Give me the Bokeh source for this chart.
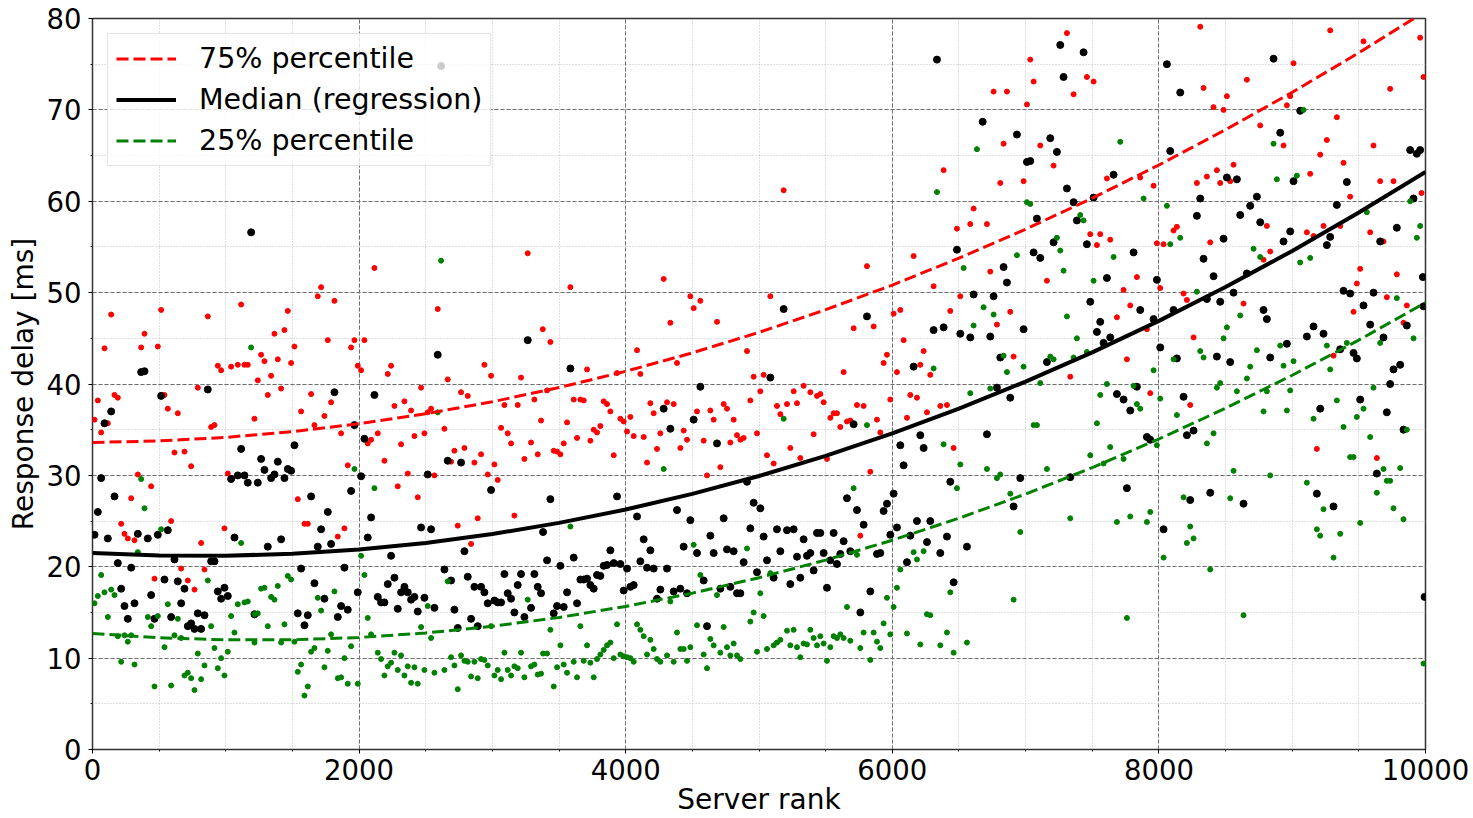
from bokeh.plotting import figure
from bokeh.models import Range1d, SingleIntervalTicker, BasicTickFormatter
from bokeh.embed import file_html
from bokeh.resources import INLINE

FONT = "DejaVu Sans"

# ---- 75% percentile samples (red) ----
p75_points = [
    (140, 47.6), (90, 43.9), (365, 44.0), (390, 45.5), (490, 44.1), (515, 48.1), (865, 47.4), (940, 42.0),
    (965, 41.5), (1040, 41.9), (1090, 42.1), (1140, 42.1), (1165, 42.1), (1115, 48.7), (1240, 40.4), (1265, 43.2),
    (1290, 42.5), (1340, 40.9), (1365, 45.5), (1390, 42.7), (1440, 45.9), (1465, 48.0), (1490, 42.3), (1515, 44.1),
    (1690, 49.6), (1715, 50.6), (1815, 49.1), (1765, 44.8), (1940, 44.0), (1965, 44.8), (2040, 44.8), (1990, 42.0),
    (2015, 41.5), (2115, 52.7), (2215, 41.1), (2240, 42.0), (2590, 48.2), (2665, 40.5), (2940, 42.1), (2990, 40.9),
    (3215, 40.7), (3265, 54.3), (3378, 46.0), (790, 39.6), (2465, 39.6), (1415, 39.5),
    (15, 36.1), (40, 38.2), (65, 34.7), (115, 35.7), (165, 38.8), (190, 38.5), (215, 24.7), (240, 23.6),
    (265, 23.1), (290, 27.5), (315, 22.9), (340, 30.1), (440, 28.8), (465, 18.7), (515, 38.8), (540, 38.8),
    (565, 37.3), (590, 25.0), (615, 32.5), (640, 36.8), (665, 19.8), (690, 32.6), (715, 18.5), (740, 31.0),
    (765, 17.5), (815, 22.6), (840, 19.7), (890, 35.3), (915, 35.5), (990, 24.2), (1015, 30.2), (1215, 36.2),
    (1315, 38.8), (1540, 27.4), (1565, 37.0), (1590, 24.7), (1615, 24.7), (1640, 38.9), (1665, 35.5), (1740, 36.5),
    (1790, 38.0), (1840, 23.3), (1865, 34.6), (1890, 24.2), (1915, 31.1), (2065, 33.5), (2090, 33.9), (2140, 34.6),
    (2190, 31.6), (2265, 37.6), (2290, 28.8), (2315, 33.4), (2340, 38.1), (2365, 30.2), (2390, 37.1), (2415, 34.3),
    (2440, 27.6), (2490, 34.6), (2515, 36.9), (2540, 37.3), (2565, 30.0), (2640, 35.1), (2690, 31.5), (2715, 32.7),
    (2740, 24.5), (2765, 39.1), (2790, 33.0), (2815, 38.7), (2840, 22.5), (2865, 31.4), (2890, 25.3), (2915, 32.3),
    (2965, 30.1), (3015, 31.2), (3040, 29.5), (3065, 35.2), (3090, 37.7), (3115, 34.6), (3140, 33.5), (3165, 25.6),
    (3190, 37.7), (3240, 31.8), (3290, 33.6), (3315, 38.3), (3340, 32.3), (3365, 36.0),
    (3435, 44.6), (3585, 50.6), (3710, 41.6), (3935, 41.2), (4085, 43.7), (4110, 41.1), (4285, 51.5), (4335, 46.7),
    (4385, 42.3), (4485, 49.6), (4510, 48.3), (4560, 49.1), (4685, 46.8), (4910, 43.6), (4960, 40.8), (5035, 41.0),
    (5085, 49.6), (5185, 61.2), (5335, 39.8), (5635, 41.3), (5710, 46.1), (5810, 52.9), (5860, 46.3), (5935, 42.3),
    (5960, 43.2), (6010, 47.7), (6035, 41.3), (6060, 48.1), (6085, 44.8), (6160, 54.0), (6210, 42.1), (6235, 43.6),
    (6285, 41.0), (6310, 50.7), (6385, 63.4), (6435, 48.0), (6485, 57.0), (6510, 49.6), (6585, 57.5), (6610, 59.2),
    (3410, 39.3), (3460, 32.7), (3485, 32.6), (3510, 32.3), (3535, 33.5), (3560, 35.8), (3610, 38.3), (3635, 34.1),
    (3660, 38.3), (3685, 38.2), (3735, 33.8), (3760, 35.0), (3785, 34.7), (3810, 35.4), (3835, 38.1), (3860, 37.8),
    (3885, 37.0), (3910, 32.2), (3960, 36.2), (3985, 35.9), (4010, 34.8), (4035, 36.4), (4060, 34.3), (4135, 34.2),
    (4160, 31.4), (4185, 37.9), (4210, 36.8), (4235, 32.9), (4260, 34.6), (4310, 38.0), (4360, 37.8), (4410, 33.0),
    (4435, 34.9), (4460, 33.9), (4535, 37.0), (4585, 33.8), (4610, 30.0), (4635, 37.1), (4660, 36.1), (4710, 30.9),
    (4735, 37.8), (4760, 37.3), (4785, 33.6), (4810, 36.1), (4835, 34.4), (4860, 33.9), (4885, 34.1), (4935, 38.2),
    (4985, 34.6), (5010, 39.2), (5060, 32.2), (5110, 31.3), (5135, 37.6), (5160, 36.7), (5210, 37.8), (5235, 33.0),
    (5260, 39.2), (5285, 37.9), (5310, 31.9), (5385, 39.1), (5410, 34.5), (5435, 38.7), (5460, 38.9), (5485, 38.0),
    (5510, 31.8), (5535, 36.3), (5560, 36.8), (5585, 36.8), (5610, 35.3), (5660, 35.9), (5685, 36.0), (5735, 37.7),
    (5760, 23.4), (5785, 37.6), (5835, 30.4), (5885, 36.1), (5910, 34.7), (5985, 38.3), (6110, 36.3), (6135, 38.8),
    (6185, 38.5), (6260, 36.9), (6360, 37.6), (6410, 37.7), (6460, 33.0),
    (6760, 72.0), (6860, 72.0), (7035, 75.5), (7060, 73.1), (7010, 70.6), (7310, 78.4), (7460, 73.6), (7510, 73.1),
    (7360, 71.7), (6835, 66.3), (7110, 66.1), (7210, 63.9), (6810, 62.0), (6985, 62.2), (6710, 57.5), (6735, 52.3),
    (7160, 51.3), (6885, 47.9), (6785, 46.5), (6910, 43.0), (7335, 40.8), (7485, 56.4), (7560, 56.4), (7535, 55.2),
    (7635, 55.8), (7610, 62.5), (7685, 47.3), (7735, 50.3), (7785, 48.6), (7835, 51.7), (7760, 42.7), (7860, 62.6),
    (7960, 61.7), (7985, 55.4), (8035, 55.3), (8010, 50.5), (7910, 46.0), (8110, 56.8), (8135, 57.2), (8185, 49.9),
    (8210, 49.2), (8260, 45.1), (8285, 62.0), (8335, 72.4), (8310, 79.1), (8360, 62.7), (8435, 63.4), (8460, 62.0),
    (8385, 55.5), (8410, 70.3), (8485, 70.0), (8510, 71.5), (8560, 64.0), (8535, 62.2), (8635, 48.8), (8660, 73.3),
    (8760, 68.3), (8810, 57.3), (8835, 54.5), (8785, 53.6), (8935, 66.1), (8960, 70.5), (8985, 71.5), (9010, 75.1),
    (9110, 56.6), (9135, 63.0), (9160, 56.2), (9210, 65.1), (9235, 57.3), (9260, 66.7), (9285, 78.7), (9310, 43.1),
    (9335, 69.2), (9360, 57.3), (9385, 64.2), (9435, 60.5), (9460, 47.9), (9485, 51.0), (9510, 52.6), (9535, 77.5),
    (9585, 56.6), (9610, 66.1), (9660, 62.2), (9685, 55.6), (9710, 49.5), (9735, 72.3), (9760, 62.2), (9785, 52.0),
    (9835, 46.7), (9860, 48.6), (9960, 77.9), (9985, 73.6), (9970, 60.9),
    (7935, 39.0), (8235, 37.7), (9185, 32.9), (9635, 31.9),
]

# ---- median samples (black) ----
median_points = [
    (1190, 56.6), (365, 41.3), (390, 41.4), (2590, 43.2), (3265, 44.8), (2615, 74.8),
    (40, 26.0), (65, 29.7), (15, 23.5), (90, 35.7), (115, 23.1), (140, 37.0), (165, 27.7), (190, 20.4),
    (215, 17.6), (240, 15.7), (265, 14.3), (290, 19.9), (315, 16.0), (340, 23.6), (415, 23.1), (440, 16.9),
    (465, 14.3), (490, 23.5), (515, 38.7), (540, 18.6), (565, 24.0), (590, 14.5), (615, 20.8), (640, 18.4),
    (665, 16.0), (690, 17.6), (715, 13.5), (740, 13.8), (765, 13.2), (790, 14.9), (815, 13.2), (840, 14.7),
    (865, 39.4), (890, 20.6), (915, 20.6), (940, 17.3), (965, 16.5), (990, 17.7), (1015, 16.8), (1040, 29.6),
    (1065, 23.2), (1090, 30.0), (1140, 30.0), (1115, 32.9), (1165, 29.2), (1215, 14.8), (1240, 29.2), (1265, 31.8),
    (1290, 30.6), (1315, 22.2), (1340, 29.7), (1365, 30.1), (1390, 31.5), (1415, 23.0), (1440, 29.7), (1465, 30.7),
    (1490, 30.5), (1515, 33.3), (1540, 14.9), (1565, 19.8), (1590, 13.6), (1615, 14.7), (1640, 27.7), (1665, 18.2),
    (1690, 22.2), (1715, 24.1), (1740, 16.5), (1765, 26.0), (1790, 22.5), (1815, 39.1), (1840, 14.5), (1865, 15.7),
    (1890, 19.9), (1915, 15.3), (1940, 28.3), (1965, 35.5), (1990, 17.2), (2015, 29.9), (2040, 34.0), (2065, 23.2),
    (2090, 25.4), (2115, 38.8), (2140, 16.7), (2165, 16.1), (2190, 16.1), (2215, 18.1), (2240, 21.2), (2265, 18.8),
    (2290, 15.4), (2315, 17.2), (2340, 17.8), (2365, 17.2), (2390, 16.4), (2415, 16.7), (2440, 15.1), (2465, 24.3),
    (2490, 16.6), (2515, 30.1), (2540, 24.1), (2565, 15.5), (2640, 19.7), (2665, 31.6), (2690, 18.5), (2715, 15.3),
    (2740, 13.3), (2765, 31.4), (2790, 21.7), (2815, 18.9), (2840, 14.3), (2865, 17.8), (2915, 17.8), (2890, 13.5),
    (2940, 17.2), (2965, 16.0), (2990, 28.4), (3015, 16.3), (3040, 16.1), (3065, 16.1), (3090, 19.2), (3115, 17.1),
    (3140, 16.5), (3165, 15.0), (3190, 18.0), (3215, 19.2), (3240, 14.5), (3290, 15.5), (3315, 19.2), (3340, 17.8),
    (3365, 17.1), (3380, 23.8),
    (3585, 41.7), (5085, 40.7), (5185, 48.2), (5810, 47.4), (6160, 41.9), (6310, 45.9), (6385, 46.2), (6335, 75.5),
    (6485, 54.7), (6510, 45.5), (6585, 45.1), (6610, 49.8), (6678, 68.7),
    (3410, 20.7), (3435, 27.4), (3460, 14.9), (3485, 15.7), (3535, 15.6), (3510, 20.1), (3560, 17.2), (3610, 21.0),
    (3635, 16.0), (3660, 18.6), (3685, 18.6), (3710, 18.7), (3735, 18.0), (3760, 17.6), (3785, 19.1), (3810, 19.0),
    (3835, 20.1), (3860, 20.2), (3885, 21.8), (3910, 20.4), (3960, 20.3), (3935, 27.7), (3985, 17.4), (4010, 19.8),
    (4035, 17.8), (4060, 18.0), (4085, 25.5), (4110, 20.6), (4135, 23.0), (4160, 19.9), (4210, 19.8), (4185, 21.8),
    (4235, 16.5), (4260, 17.5), (4285, 37.3), (4310, 19.8), (4335, 35.1), (4360, 17.3), (4410, 17.6), (4385, 26.2),
    (4435, 22.2), (4460, 17.1), (4485, 25.1), (4510, 36.1), (4535, 21.5), (4560, 39.7), (4585, 18.5), (4610, 13.5),
    (4635, 23.4), (4660, 21.5), (4685, 33.5), (4710, 17.6), (4735, 25.3), (4760, 21.9), (4810, 21.7), (4785, 17.8),
    (4835, 17.1), (4860, 17.1), (4885, 20.5), (4910, 29.3), (4935, 24.2), (4960, 27.0), (4985, 19.4), (5010, 26.4),
    (5035, 23.3), (5060, 20.7), (5110, 18.8), (5135, 24.1), (5160, 21.7), (5210, 24.0), (5260, 24.1), (5235, 18.1),
    (5285, 21.1), (5310, 18.8), (5335, 23.0), (5360, 21.2), (5385, 21.5), (5410, 19.6), (5435, 23.7), (5460, 23.7),
    (5485, 21.5), (5510, 17.7), (5535, 20.7), (5560, 23.7), (5585, 20.3), (5610, 21.4), (5635, 22.8), (5660, 27.5),
    (5685, 21.7), (5710, 35.6), (5735, 26.2), (5760, 15.0), (5785, 24.6), (5835, 17.3), (5885, 21.4), (5910, 21.5),
    (5935, 26.1), (5960, 26.9), (5985, 23.5), (6010, 28.0), (6035, 24.3), (6060, 33.3), (6085, 31.1), (6110, 20.5),
    (6135, 23.4), (6185, 25.0), (6210, 34.4), (6235, 33.0), (6260, 22.7), (6285, 25.0), (6360, 21.5), (6410, 23.3),
    (6435, 29.3), (6460, 18.3), (6560, 22.2),
    (7260, 77.1), (7285, 73.6), (7435, 76.3), (6935, 67.3), (7185, 66.9), (7235, 65.4), (7010, 64.3), (7035, 64.4),
    (7310, 61.4), (7360, 59.9), (7085, 58.1), (7385, 57.9), (7510, 60.4), (7660, 62.9), (7210, 55.5), (7460, 55.3),
    (7060, 54.4), (7110, 53.8), (6835, 52.8), (6860, 51.1), (6760, 49.6), (6985, 46.0), (6735, 45.2), (6810, 42.9),
    (7160, 42.4), (6785, 39.6), (7485, 49.0), (7560, 46.8), (7535, 45.7), (7635, 45.1), (7585, 44.5), (7610, 51.6),
    (7810, 54.4), (7860, 48.1), (7960, 47.1), (7985, 51.4), (8110, 48.1), (8010, 44.0), (8135, 42.8), (7835, 39.7),
    (8060, 75.0), (8160, 71.9), (8085, 65.5), (8310, 60.3), (8285, 58.4), (8335, 53.7), (8485, 55.9), (8410, 51.8),
    (8360, 49.3), (8460, 49.0), (8560, 50.0), (8435, 43.0), (8535, 42.4), (8510, 62.6), (8585, 62.4), (8610, 58.5),
    (8685, 59.5), (8735, 60.5), (8760, 57.7), (8660, 52.1), (8785, 48.1), (8810, 47.1), (8960, 44.4), (8835, 42.9),
    (8860, 75.6), (8910, 67.5), (9060, 69.9), (9010, 62.2), (8935, 55.6), (8985, 56.7), (9260, 55.2), (9285, 56.1),
    (9335, 59.6), (9410, 62.1), (9160, 46.3), (9110, 45.2), (9235, 45.5), (9385, 50.2), (9435, 49.9), (9360, 43.8),
    (9460, 43.4), (9485, 42.8), (9535, 48.6), (9585, 46.5), (9610, 50.0), (9685, 45.1), (9660, 55.6), (9785, 57.1),
    (9760, 41.6), (9810, 42.1), (9735, 40.0), (9860, 46.4), (9885, 65.6), (9935, 65.2), (9960, 65.6), (9910, 60.3),
    (9985, 48.5), (9980, 51.7),
    (6885, 38.5), (6710, 34.5), (6960, 29.7), (6910, 26.6), (7335, 29.8), (7685, 38.9), (7735, 38.3), (7785, 37.1),
    (7910, 34.2), (7935, 33.9), (7760, 28.6), (8035, 24.1), (8185, 38.6), (8210, 34.4), (8260, 34.9), (8235, 27.3),
    (8385, 28.1), (8635, 26.9), (9210, 37.3), (9185, 28.0), (9310, 26.6), (9510, 38.3), (9710, 36.9), (9835, 35.0),
    (9635, 30.2), (9993, 16.7),
]

# ---- 25% percentile samples (green) ----
p25_points = [
    (1190, 44.0), (2615, 53.5),
    (15, 16.0), (40, 16.8), (65, 19.1), (90, 17.2), (115, 14.5), (140, 17.5), (165, 16.9), (190, 12.4),
    (215, 9.6), (240, 12.5), (265, 11.8), (290, 12.5), (315, 9.3), (340, 21.6), (365, 29.6), (390, 26.4),
    (415, 14.5), (440, 13.5), (465, 6.9), (490, 14.6), (515, 24.1), (540, 11.2), (565, 15.9), (590, 7.0),
    (615, 12.5), (640, 14.3), (665, 12.2), (690, 8.1), (715, 8.4), (740, 7.8), (765, 6.5), (790, 10.5),
    (815, 7.7), (840, 9.2), (865, 18.5), (890, 13.5), (915, 11.1), (940, 8.9), (965, 10.0), (990, 8.1),
    (1015, 10.7), (1040, 14.6), (1065, 12.8), (1090, 15.9), (1140, 16.1), (1165, 16.2), (1115, 22.6), (1215, 14.8),
    (1240, 14.9), (1215, 11.7), (1265, 17.6), (1290, 17.7), (1315, 13.5), (1340, 16.7), (1365, 16.4), (1390, 17.9),
    (1415, 11.7), (1440, 13.7), (1465, 19.0), (1490, 18.6), (1515, 11.8), (1540, 8.5), (1565, 9.3), (1590, 5.9),
    (1615, 6.9), (1640, 10.7), (1665, 11.1), (1690, 16.6), (1715, 15.2), (1740, 9.0), (1765, 10.8), (1790, 12.6),
    (1815, 17.3), (1840, 7.8), (1865, 7.9), (1890, 10.0), (1915, 7.2), (1940, 11.3), (1965, 30.7), (1990, 7.2),
    (2015, 21.2), (2040, 19.1), (2065, 14.4), (2090, 12.6), (2115, 28.6), (2140, 10.6), (2165, 9.9), (2190, 8.1),
    (2215, 9.1), (2240, 9.5), (2265, 10.6), (2290, 8.7), (2315, 10.3), (2340, 8.1), (2365, 9.1), (2390, 7.3),
    (2415, 9.0), (2440, 7.2), (2465, 13.4), (2490, 8.7), (2515, 15.7), (2540, 12.2), (2565, 8.4), (2590, 36.9),
    (2640, 8.7), (2665, 18.4), (2690, 10.1), (2715, 9.2), (2740, 6.6), (2765, 10.3), (2790, 9.7), (2815, 9.6),
    (2840, 8.0), (2865, 9.6), (2890, 7.8), (2915, 9.9), (2940, 9.8), (2965, 9.2), (2990, 13.5), (3015, 8.1),
    (3040, 8.7), (3065, 7.7), (3090, 10.6), (3115, 8.7), (3140, 8.1), (3165, 9.1), (3190, 8.9), (3215, 10.6),
    (3240, 7.9), (3265, 16.4), (3290, 9.1), (3315, 9.3), (3340, 8.2), (3365, 8.3), (3380, 10.5),
    (6335, 61.0), (6635, 65.7), (6535, 52.7), (6685, 48.4), (6610, 46.4), (6310, 41.7),
    (3410, 10.5), (3435, 13.1), (3460, 6.9), (3485, 9.0), (3510, 11.4), (3535, 9.3), (3560, 8.4), (3585, 24.4),
    (3610, 9.6), (3635, 7.9), (3660, 13.5), (3685, 9.7), (3710, 11.4), (3735, 9.5), (3760, 7.9), (3785, 9.9),
    (3810, 10.4), (3835, 10.9), (3860, 11.4), (3885, 11.7), (3910, 10.0), (3935, 13.7), (3960, 10.4), (3985, 10.2),
    (4010, 10.1), (4035, 10.0), (4060, 9.6), (4085, 13.7), (4110, 13.1), (4135, 12.4), (4185, 12.0), (4160, 10.4),
    (4210, 11.0), (4235, 9.9), (4260, 9.6), (4285, 30.7), (4310, 10.3), (4335, 16.2), (4360, 9.6), (4385, 12.8),
    (4410, 11.0), (4435, 11.0), (4460, 9.7), (4485, 11.2), (4510, 22.4), (4535, 13.6), (4560, 19.1), (4585, 10.4),
    (4610, 8.9), (4635, 12.1), (4660, 11.4), (4685, 16.9), (4710, 10.6), (4735, 13.4), (4760, 11.2), (4785, 10.3),
    (4835, 10.3), (4860, 9.9), (4810, 11.6), (4910, 22.0), (4935, 14.0), (4960, 15.0), (4985, 10.7), (5010, 17.1),
    (5035, 14.6), (5060, 11.0), (5110, 11.4), (5135, 11.7), (5160, 12.0), (5085, 19.3), (5185, 36.2), (5210, 13.0),
    (5260, 13.1), (5235, 11.4), (5285, 11.2), (5310, 10.1), (5335, 11.6), (5360, 11.5), (5385, 13.1), (5410, 12.2),
    (5460, 12.4), (5435, 11.4), (5485, 11.6), (5510, 9.7), (5535, 11.2), (5560, 12.4), (5585, 12.2), (5610, 12.6),
    (5635, 12.2), (5660, 15.6), (5685, 11.9), (5710, 28.6), (5735, 21.3), (5760, 11.1), (5785, 12.8), (5810, 35.5),
    (5835, 9.8), (5860, 12.8), (5885, 11.8), (5910, 11.1), (5935, 13.8), (5960, 16.6), (6010, 15.6), (5985, 12.6),
    (6035, 17.7), (6060, 19.7), (6110, 12.7), (6160, 21.6), (6185, 20.8), (6210, 11.5), (6235, 21.7), (6260, 14.8),
    (6285, 14.7), (6360, 11.4), (6385, 33.4), (6410, 12.8), (6435, 17.2), (6460, 10.6), (6485, 28.6), (6510, 31.2),
    (6560, 11.7), (6585, 39.0),
    (7010, 59.9), (7035, 59.7), (7710, 66.5), (7885, 60.3), (8060, 59.5), (8160, 56.0), (8085, 55.3), (7410, 58.5),
    (7435, 57.9), (7235, 56.0), (7260, 54.6), (6935, 54.1), (7285, 52.4), (7660, 53.9), (7510, 51.3), (6760, 47.6),
    (7310, 47.4), (7385, 45.0), (6835, 43.1), (7185, 43.0), (7210, 42.7), (7360, 42.9), (6860, 41.3), (6985, 41.9),
    (7460, 43.5), (7110, 40.1), (7610, 40.0), (7810, 39.8), (7960, 41.5), (8110, 42.7), (8285, 50.1), (8310, 43.6),
    (8335, 42.9), (8510, 46.2), (8485, 45.0), (8460, 40.1), (8610, 47.5), (8685, 41.9), (8660, 40.6), (8710, 54.8),
    (8760, 53.9), (8860, 66.3), (8885, 62.4), (9035, 62.8), (9085, 70.0), (9060, 53.3), (9135, 53.8), (8735, 43.7),
    (8910, 44.2), (8935, 42.0), (9010, 42.5), (9260, 44.2), (9285, 41.6), (9410, 44.5), (9560, 58.8), (9610, 39.6),
    (9660, 44.5), (9785, 49.4), (9885, 60.0), (9910, 45.0), (9935, 56.0), (9960, 57.3),
    (6735, 39.5), (7060, 35.5), (7085, 35.5), (6710, 30.7), (6785, 29.7), (6810, 30.1), (6885, 28.0), (6960, 23.8),
    (6910, 16.4), (7160, 30.7), (7335, 25.3), (7485, 32.2), (7535, 35.7), (7560, 38.8), (7585, 31.3), (7635, 33.1),
    (7735, 31.8), (7685, 24.9), (7785, 25.5), (7760, 14.4), (7835, 37.8), (7860, 37.3), (7910, 24.9), (7935, 26.0),
    (7985, 33.3), (8010, 38.4), (8035, 21.0), (8135, 36.6), (8185, 27.6), (8235, 24.4), (8210, 22.6), (8260, 23.1),
    (8360, 33.5), (8385, 19.7), (8410, 34.6), (8435, 39.6), (8535, 27.5), (8560, 30.5), (8585, 39.2), (8635, 14.7),
    (8785, 37.0), (8810, 39.2), (8835, 30.0), (8960, 37.1), (8985, 39.3), (9110, 29.2), (9160, 36.2), (9185, 24.1),
    (9210, 23.4), (9235, 26.3), (9310, 21.0), (9335, 38.2), (9360, 23.6), (9385, 35.3), (9435, 32.0), (9460, 32.0),
    (9485, 36.4), (9510, 24.8), (9535, 37.3), (9585, 34.2), (9635, 28.1), (9685, 30.7), (9710, 29.4), (9735, 29.4),
    (9760, 26.4), (9810, 30.8), (9835, 25.2), (9860, 35.0), (9985, 9.4),
]

# ---- regression curves, every 500 ranks ----
curve_rank = [0, 500, 1000, 1500, 2000, 2500, 3000, 3500, 4000, 4500, 5000,
              5500, 6000, 6500, 7000, 7500, 8000, 8500, 9000, 9500, 10000]
curve_p75 = [33.6, 33.77, 34.16, 34.79, 35.65, 36.74, 38.06, 39.61, 41.39, 43.41, 45.65,
             48.13, 50.83, 53.77, 56.94, 60.34, 63.97, 67.83, 71.92, 76.25, 80.8]
curve_median = [21.5, 21.23, 21.2, 21.42, 21.89, 22.61, 23.58, 24.8, 26.26, 27.97, 29.93,
                32.14, 34.6, 37.3, 40.26, 43.46, 46.91, 50.61, 54.56, 58.76, 63.2]
curve_p25 = [12.7, 12.23, 12.0, 12.01, 12.26, 12.75, 13.48, 14.45, 15.66, 17.11, 18.8,
             20.73, 22.9, 25.31, 27.96, 30.85, 33.98, 37.35, 40.96, 44.81, 48.9]

series_labels = ["75% percentile", "Median (regression)", "25% percentile"]
x_label = "Server rank"
y_label = "Response delay [ms]"


def split(points):
    return [pt[0] for pt in points], [pt[1] for pt in points]


p = figure(width=1473, height=818,
           x_range=Range1d(0, 10000), y_range=Range1d(0, 80),
           output_backend="svg", toolbar_location=None,
           min_border_left=92, min_border_right=48,
           min_border_top=18, min_border_bottom=68,
           background_fill_color="white", border_fill_color="white")

p.outline_line_color = "#333333"
p.outline_line_width = 1.5
p.outline_line_alpha = 1.0

p.xaxis.ticker = SingleIntervalTicker(interval=2000, num_minor_ticks=4)
p.yaxis.ticker = SingleIntervalTicker(interval=10, num_minor_ticks=2)
p.xaxis.formatter = BasicTickFormatter(use_scientific=False)
p.xgrid.ticker = p.xaxis[0].ticker
p.ygrid.ticker = p.yaxis[0].ticker
p.xaxis.axis_label = x_label
p.yaxis.axis_label = y_label

for ax in (p.xaxis[0], p.yaxis[0]):
    ax.axis_line_color = None
    ax.major_tick_line_color = "black"
    ax.minor_tick_line_color = "black"
    ax.major_tick_out = 4
    ax.major_tick_in = 0
    ax.minor_tick_out = 2
    ax.minor_tick_in = 0
    ax.major_label_text_font = FONT
    ax.major_label_text_font_size = "27.5px"
    ax.major_label_text_color = "black"
    ax.axis_label_text_font = FONT
    ax.axis_label_text_font_size = "28px"
    ax.axis_label_text_font_style = "normal"
    ax.axis_label_text_color = "black"

p.xaxis.major_label_standoff = 5
p.xaxis.axis_label_standoff = 0
p.yaxis.major_label_standoff = 7
p.yaxis.axis_label_standoff = 4

for g in (p.xgrid[0], p.ygrid[0]):
    g.grid_line_color = "#707070"
    g.grid_line_dash = "4 2"
    g.grid_line_width = 1
    g.minor_grid_line_color = "#c0c0c0"
    g.minor_grid_line_dash = "1 2"
    g.minor_grid_line_width = 1

rx, ry = split(p75_points)
mx, my = split(median_points)
gx, gy = split(p25_points)

p.scatter(rx, ry, size=5, fill_color="#ff0000", line_color="#ff0000")
p.scatter(mx, my, size=7, fill_color="black", line_color="black")
p.scatter(gx, gy, size=5, fill_color="#008000", line_color="#008000")

p.line(curve_rank, curve_p75, line_color="#ff0000", line_width=3, line_dash="12 5",
       legend_label=series_labels[0])
p.line(curve_rank, curve_median, line_color="black", line_width=4,
       legend_label=series_labels[1])
p.line(curve_rank, curve_p25, line_color="#008000", line_width=3, line_dash="12 5",
       legend_label=series_labels[2])

lg = p.legend[0]
lg.location = "top_left"
lg.margin = 15
lg.padding = 8
lg.spacing = 8
lg.glyph_width = 60
lg.glyph_height = 33
lg.label_height = 33
lg.label_standoff = 23
lg.label_text_font = FONT
lg.label_text_font_size = "28.5px"
lg.label_text_color = "black"
lg.border_line_color = "#cccccc"
lg.border_line_width = 1
lg.background_fill_color = "white"
lg.background_fill_alpha = 0.8

open("out.html", "w").write(file_html(p, INLINE))
